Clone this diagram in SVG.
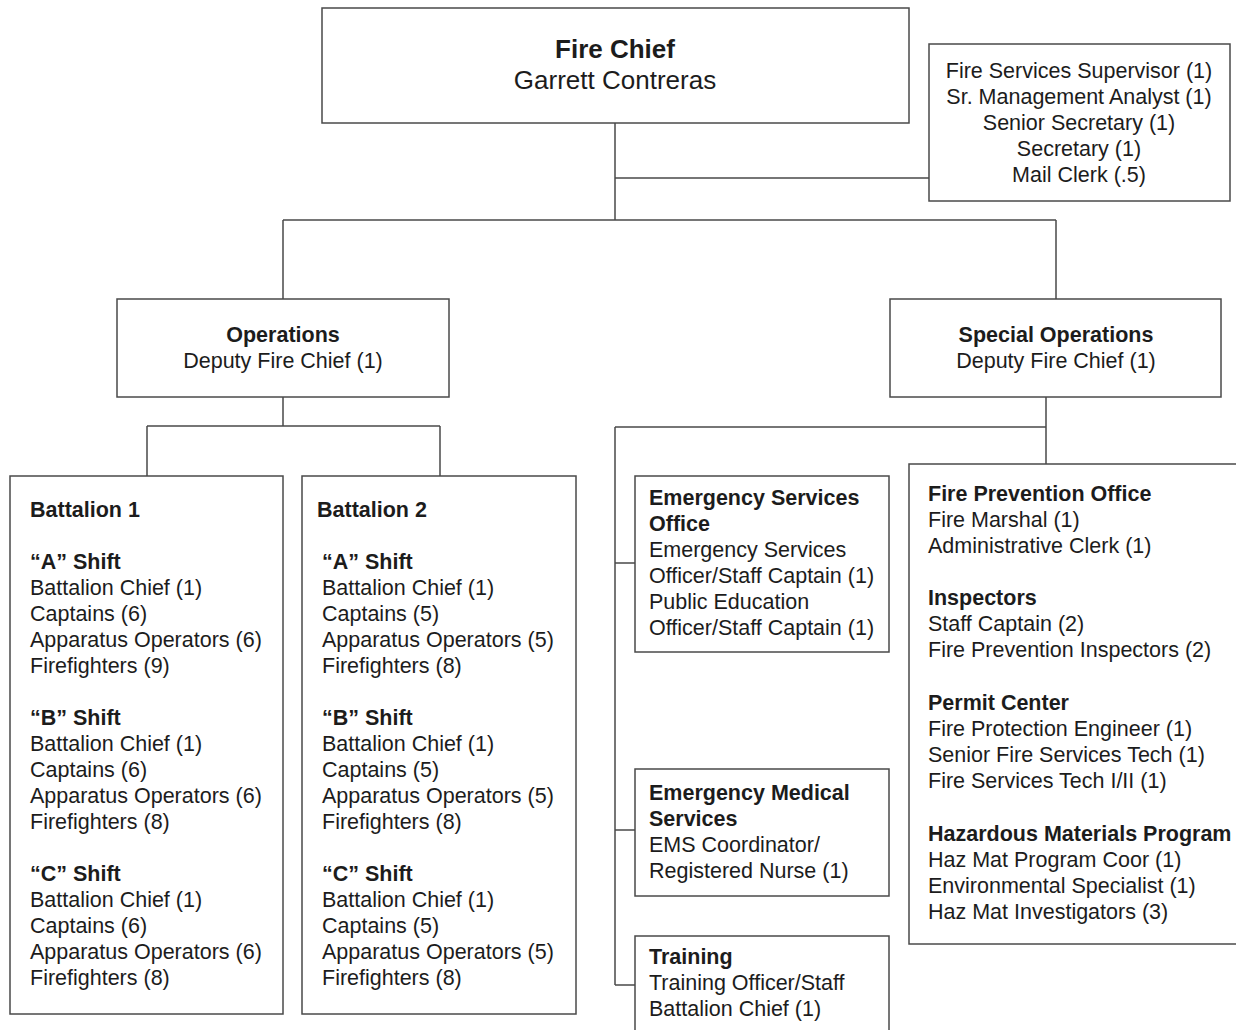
<svg xmlns="http://www.w3.org/2000/svg" width="1236" height="1030" viewBox="0 0 1236 1030">
  <style>
    .box { fill: #ffffff; stroke: #4a4a4a; stroke-width: 1.5; }
    .link { fill: none; stroke: #4a4a4a; stroke-width: 1.5; }
    text { font-family: "Liberation Sans", Arial, sans-serif; font-size: 21.5px; fill: #1c1c1c; }
    .b { font-weight: bold; }
    .c { text-anchor: middle; }
    .chief { font-size: 26px; }
  </style>
  <rect width="1236" height="1030" fill="#ffffff"/>

  <!-- reporting lines -->
  <g id="connectors">
    <path class="link" d="M615 123 V220 M615 178 H929"/>
    <path class="link" d="M283 220 H1056 M283 220 V299 M1056 220 V299"/>
    <path class="link" d="M283 397 V426 M147 426 H440 M147 426 V476 M440 426 V476"/>
    <path class="link" d="M1046 397 V464 M615 427 H1046 M615 427 V985"/>
    <path class="link" d="M615 563 H635 M615 830 H635 M615 985 H635"/>
  </g>

  <g id="fire-chief">
    <rect class="box" x="322" y="8" width="587" height="115"/>
    <text class="c b chief" x="615" y="58">Fire Chief</text>
    <text class="c chief" x="615" y="89">Garrett Contreras</text>
  </g>

  <g id="admin-staff">
    <rect class="box" x="929" y="44" width="301" height="157"/>
    <text class="c" x="1079" y="78">Fire Services Supervisor (1)</text>
    <text class="c" x="1079" y="104">Sr. Management Analyst (1)</text>
    <text class="c" x="1079" y="130">Senior Secretary (1)</text>
    <text class="c" x="1079" y="156">Secretary (1)</text>
    <text class="c" x="1079" y="182">Mail Clerk (.5)</text>
  </g>

  <g id="operations">
    <rect class="box" x="117" y="299" width="332" height="98"/>
    <text class="c b" x="283" y="342">Operations</text>
    <text class="c" x="283" y="368">Deputy Fire Chief (1)</text>
  </g>

  <g id="special-operations">
    <rect class="box" x="890" y="299" width="331" height="98"/>
    <text class="c b" x="1056" y="342">Special Operations</text>
    <text class="c" x="1056" y="368">Deputy Fire Chief (1)</text>
  </g>

  <g id="battalion-1">
    <rect class="box" x="10" y="476" width="273" height="538"/>
    <text class="b" x="30" y="517">Battalion 1</text>
    <text class="b" x="30" y="569">“A” Shift</text>
    <text x="30" y="595">Battalion Chief (1)</text>
    <text x="30" y="621">Captains (6)</text>
    <text x="30" y="647">Apparatus Operators (6)</text>
    <text x="30" y="673">Firefighters (9)</text>
    <text class="b" x="30" y="725">“B” Shift</text>
    <text x="30" y="751">Battalion Chief (1)</text>
    <text x="30" y="777">Captains (6)</text>
    <text x="30" y="803">Apparatus Operators (6)</text>
    <text x="30" y="829">Firefighters (8)</text>
    <text class="b" x="30" y="881">“C” Shift</text>
    <text x="30" y="907">Battalion Chief (1)</text>
    <text x="30" y="933">Captains (6)</text>
    <text x="30" y="959">Apparatus Operators (6)</text>
    <text x="30" y="985">Firefighters (8)</text>
  </g>

  <g id="battalion-2">
    <rect class="box" x="302" y="476" width="274" height="538"/>
    <text class="b" x="317" y="517">Battalion 2</text>
    <text class="b" x="322" y="569">“A” Shift</text>
    <text x="322" y="595">Battalion Chief (1)</text>
    <text x="322" y="621">Captains (5)</text>
    <text x="322" y="647">Apparatus Operators (5)</text>
    <text x="322" y="673">Firefighters (8)</text>
    <text class="b" x="322" y="725">“B” Shift</text>
    <text x="322" y="751">Battalion Chief (1)</text>
    <text x="322" y="777">Captains (5)</text>
    <text x="322" y="803">Apparatus Operators (5)</text>
    <text x="322" y="829">Firefighters (8)</text>
    <text class="b" x="322" y="881">“C” Shift</text>
    <text x="322" y="907">Battalion Chief (1)</text>
    <text x="322" y="933">Captains (5)</text>
    <text x="322" y="959">Apparatus Operators (5)</text>
    <text x="322" y="985">Firefighters (8)</text>
  </g>

  <g id="emergency-services-office">
    <rect class="box" x="635" y="476" width="254" height="176"/>
    <text class="b" x="649" y="505">Emergency Services</text>
    <text class="b" x="649" y="531">Office</text>
    <text x="649" y="557">Emergency Services</text>
    <text x="649" y="583">Officer/Staff Captain (1)</text>
    <text x="649" y="609">Public Education</text>
    <text x="649" y="635">Officer/Staff Captain (1)</text>
  </g>

  <g id="emergency-medical-services">
    <rect class="box" x="635" y="769" width="254" height="127"/>
    <text class="b" x="649" y="800">Emergency Medical</text>
    <text class="b" x="649" y="826">Services</text>
    <text x="649" y="852">EMS Coordinator/</text>
    <text x="649" y="878">Registered Nurse (1)</text>
  </g>

  <g id="training">
    <rect class="box" x="635" y="936" width="254" height="110"/>
    <text class="b" x="649" y="964">Training</text>
    <text x="649" y="990">Training Officer/Staff</text>
    <text x="649" y="1016">Battalion Chief (1)</text>
  </g>

  <g id="fire-prevention-office">
    <rect class="box" x="909" y="464" width="340" height="480"/>
    <text class="b" x="928" y="501">Fire Prevention Office</text>
    <text x="928" y="527">Fire Marshal (1)</text>
    <text x="928" y="553">Administrative Clerk (1)</text>
    <text class="b" x="928" y="605">Inspectors</text>
    <text x="928" y="631">Staff Captain (2)</text>
    <text x="928" y="657">Fire Prevention Inspectors (2)</text>
    <text class="b" x="928" y="710">Permit Center</text>
    <text x="928" y="736">Fire Protection Engineer (1)</text>
    <text x="928" y="762">Senior Fire Services Tech (1)</text>
    <text x="928" y="788">Fire Services Tech I/II (1)</text>
    <text class="b" x="928" y="841">Hazardous Materials Program</text>
    <text x="928" y="867">Haz Mat Program Coor (1)</text>
    <text x="928" y="893">Environmental Specialist (1)</text>
    <text x="928" y="919">Haz Mat Investigators (3)</text>
  </g>
</svg>
